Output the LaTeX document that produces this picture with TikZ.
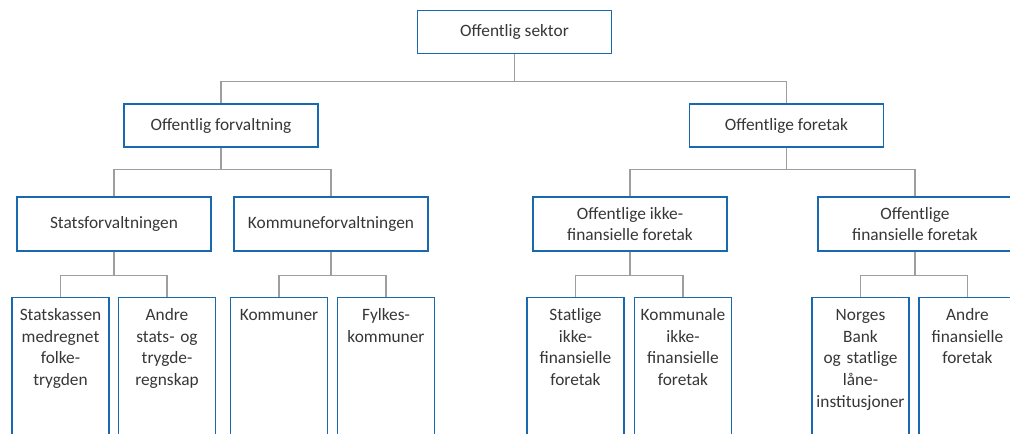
\documentclass[tikz,border=0pt]{standalone}
\usepackage{fontspec}
\setmainfont{Carlito}
\definecolor{boxblue}{RGB}{24,105,175}
\definecolor{linegray}{RGB}{158,158,158}
\definecolor{textgray}{RGB}{55,55,55}
\def\px{0.75pt}
\tikzset{
	unit/.style = {draw = boxblue, line width = 1.1pt, fill = white, text = textgray, align = center,
		font = \fontsize{13}{16.3}\selectfont, minimum width = 194*\px, inner sep = 2pt},
	unitlow/.style = {unit, minimum height = 54*\px},
	unithigh/.style = {unit, minimum height = 43*\px},
	leaf/.style = {unit, anchor = north, minimum width = 97*\px, text width = 97*\px - 4pt,
		text height = 12pt, text depth = 100pt, inner ysep = 5pt},
	link/.style = {draw = linegray, line width = 0.9pt}
}

\begin{document}
\begin{tikzpicture}[x = \px, y = -\px]
	\useasboundingbox (0,0) rectangle (1010,433);
	% top level
	\node[unithigh] (sektor) at (514.5,32) {Offentlig sektor};
	\node[unithigh] (forv) at (221,125.5) {Offentlig forvaltning};
	\node[unithigh] (foretak) at (786.5,125.5) {Offentlige foretak};
	% third level
	\node[unitlow] (stat) at (114,224) {Statsforvaltningen};
	\node[unitlow] (komforv) at (331,224) {Kommuneforvaltningen};
	\node[unitlow] (ikkefin) at (630,224) {Offentlige ikke-\\finansielle foretak};
	\node[unitlow] (fin) at (915,224) {Offentlige\\finansielle foretak};
	% bottom level, boxes run off the page
	\node[leaf] (statskassen) at (60.5,297) {Statskassen\\medregnet\\folke-\\trygden};
	\node[leaf] (andrestat) at (167,297) {Andre\\stats- og\\trygde-\\regnskap};
	\node[leaf] (kommuner) at (279,297) {Kommuner};
	\node[leaf] (fylker) at (386,297) {Fylkes-\\kommuner};
	\node[leaf] (statlige) at (575.5,297) {Statlige\\ikke-\\finansielle\\foretak};
	\node[leaf] (kommunale) at (683,297) {Kommunale\\ikke-\\finansielle\\foretak};
	\node[leaf] (norgesbank) at (860.5,297) {Norges\\Bank\\og statlige\\låne-\\institusjoner};
	\node[leaf] (andrefin) at (967.5,297) {Andre\\finansielle\\foretak};

	\foreach \p/\c in {sektor/forv, sektor/foretak}
		\draw[link] (\p.south) -- ++(0,27) -| (\c.north);
	\foreach \p/\c in {forv/stat, forv/komforv, foretak/ikkefin, foretak/fin}
		\draw[link] (\p.south) -- ++(0,22) -| (\c.north);
	\foreach \p/\c in {stat/statskassen, stat/andrestat, komforv/kommuner, komforv/fylker,
		ikkefin/statlige, ikkefin/kommunale, fin/norgesbank, fin/andrefin}
		\draw[link] (\p.south) -- ++(0,24) -| (\c.north);
\end{tikzpicture}
\end{document}
